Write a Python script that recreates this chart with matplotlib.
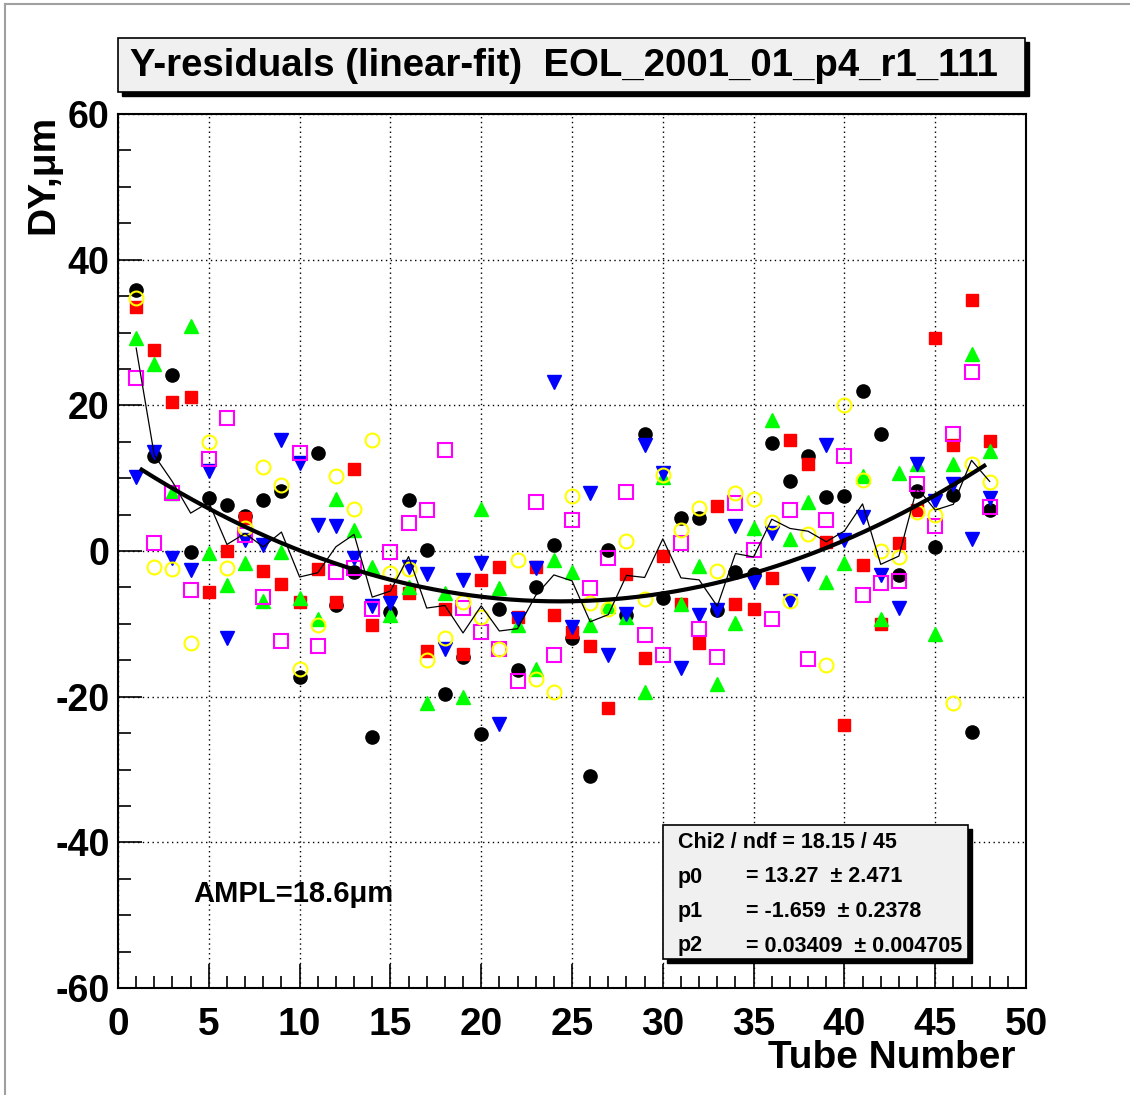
import numpy as np
import matplotlib
matplotlib.use("Agg")
from matplotlib import pyplot as plt
from matplotlib.patches import Rectangle
from matplotlib.lines import Line2D
from matplotlib.ticker import MultipleLocator

plt.rcParams['font.family'] = ['Liberation Sans', 'DejaVu Sans']
plt.rcParams['font.weight'] = 'bold'
plt.rcParams['axes.unicode_minus'] = False

tubes = np.arange(1, 49)

# residuals per tube for the six runs (micrometres)
black = [35.8, 13.0, 24.1, -0.2, 7.3, 6.3, 4.8, 7.0, 8.3, -17.3, 13.5, -7.4,
         -2.9, -25.5, -8.4, 7.0, 0.1, -19.7, -14.5, -25.1, -8.0, -16.3, -4.9, 0.8,
         -12.0, -30.9, 0.1, -8.8, 16.0, -6.4, 4.5, 4.5, -8.1, -2.9, -3.2, 14.8,
         9.6, 13.1, 7.4, 7.6, 21.9, 16.0, -3.3, 8.2, 0.6, 7.7, -24.9, 5.6]
red = [33.5, 27.6, 20.4, 21.1, -5.6, 0.0, 4.5, -2.8, -4.5, -7.0, -2.5, -7.0,
       11.3, -10.1, -5.5, -5.8, -13.7, -7.9, -14.1, -4.0, -2.2, -9.1, -2.2, -8.8,
       -11.1, -13.1, -21.6, -3.1, -14.7, -0.7, -7.3, -12.6, 6.2, -7.3, -7.9, -3.7,
       15.3, 12.0, 1.3, -23.9, -1.9, -10.0, 1.1, 5.6, 29.3, 14.6, 34.5, 15.1]
green = [29.3, 25.7, 8.0, 30.9, -0.3, -4.7, -1.7, -6.8, -0.2, -6.5, -9.3, 7.1,
         2.9, -2.2, -8.8, -4.9, -20.9, -5.8, -20.1, 5.7, -5.1, -10.2, -16.2, -1.2,
         -2.9, -10.1, -7.6, -9.0, -19.4, 10.2, -7.3, -2.1, -18.2, -9.9, 3.1, 18.0,
         1.7, 6.7, -4.2, -1.7, 10.3, -9.3, 10.7, 11.9, -11.4, 11.9, 27.0, 13.7]
blue = [10.2, 13.6, -1.0, -2.6, 11.0, -12.0, 1.5, 0.8, 15.2, 12.1, 3.6, 3.4,
        -1.0, -7.6, -7.2, -2.2, -3.1, -13.4, -4.0, -1.6, -23.7, -9.4, -2.4, 23.2,
        -10.4, 8.0, -14.3, -8.7, 14.5, 10.7, -16.0, -8.8, -8.1, 3.4, -4.2, 2.5,
        -6.8, -3.1, 14.5, 1.5, 4.7, -3.3, -7.8, 11.9, 6.8, 9.2, 1.6, 7.3]
magenta = [23.7, 1.1, 8.0, -5.4, 12.7, 18.2, 2.2, -6.3, -12.3, 13.5, -13.0, -2.9,
           -2.4, -7.9, -0.1, 3.8, 5.6, 13.9, -7.8, -11.1, -13.4, -17.8, 6.7, -14.3,
           4.2, -5.1, -1.0, 8.1, -11.6, -14.3, 1.1, -10.7, -14.6, 6.6, 0.2, -9.4,
           5.6, -14.8, 4.2, 13.0, -6.0, -4.4, -4.1, 9.2, 3.4, 16.0, 24.6, 6.1]
yellow = [34.7, -2.2, -2.5, -12.6, 15.0, -2.4, 3.2, 11.5, 9.1, -16.2, -10.2, 10.3,
          5.8, 15.3, -3.0, -2.5, -15.0, -12.0, -7.0, -9.1, -13.5, -1.2, -17.6, -19.4,
          7.6, -7.1, -8.0, 1.4, -6.6, 10.5, 2.9, 5.9, -2.7, 8.0, 7.1, 4.0,
          -6.8, 2.4, -15.6, 20.0, 9.8, 0.0, -0.8, 5.4, 5.0, -20.9, 11.9, 9.5]

# pol2 fit parameters from the stats box
p0, p1, p2 = 13.27, -1.659, 0.03409
fit_lo, fit_hi = 1.3, 47.7

W, H = 1130, 1095


def fx(px):
    return px / W


def fy(py):
    return 1 - py / H


fig = plt.figure(figsize=(W / 100, H / 100), dpi=100)
fig.patch.set_facecolor('white')

# canvas border (grey, top and left)
fig.add_artist(Line2D([fx(5), fx(5)], [fy(1095), fy(4)], color='#a0a0a0', lw=1.5))
fig.add_artist(Line2D([fx(5), fx(1130)], [fy(4), fy(4)], color='#a0a0a0', lw=1.5))

ax = fig.add_axes([fx(118), fy(988), fx(1026) - fx(118), fy(114) - fy(988)])

ax.plot(tubes, black, 'o', color='black', ms=9.5, mec='black', zorder=3)
ax.plot(tubes, red, 's', color='#ff0000', ms=9, mec='#ff0000', zorder=3)
ax.plot(tubes, green, '^', color='#00ff00', ms=9.5, mec='#00ff00', zorder=3)
ax.plot(tubes, blue, 'v', color='#0000ff', ms=9.5, mec='#0000ff', zorder=3)
ax.plot(tubes, magenta, 's', mfc='none', mec='#ff00ff', mew=1.5, ms=9.5, zorder=3)
ax.plot(tubes, yellow, 'o', mfc='none', mec='#ffff00', mew=1.5, ms=10, zorder=3)

mean = np.mean([black, red, green, blue, magenta, yellow], axis=0)
ax.plot(tubes, mean, '-', color='black', lw=0.9, zorder=4)

xf = np.linspace(fit_lo, fit_hi, 200)
ax.plot(xf, p0 + p1 * xf + p2 * xf ** 2, '-', color='black', lw=3, zorder=5)

ax.set_xlim(0, 50)
ax.set_ylim(-60, 60)
ax.xaxis.set_major_locator(MultipleLocator(5))
ax.xaxis.set_minor_locator(MultipleLocator(1))
ax.yaxis.set_major_locator(MultipleLocator(20))
ax.yaxis.set_minor_locator(MultipleLocator(5))
ax.tick_params(which='both', direction='in', top=False, right=False, width=1.2)
ax.tick_params(which='major', length=17)
ax.tick_params(which='minor', length=9)
ax.tick_params(axis='x', which='major', labelsize=28, pad=14)
ax.tick_params(axis='y', which='major', labelsize=27, pad=6)
for lab in ax.get_xticklabels() + ax.get_yticklabels():
    lab.set_fontweight('bold')
ax.grid(which='major', color='black', linestyle=(0, (1, 2.5)), linewidth=1)
for sp in ax.spines.values():
    sp.set_linewidth(1.5)

fig.text(fx(1016), fy(1058), 'Tube Number', ha='right', va='center',
         fontsize=28, fontweight='bold')
fig.text(fx(43), fy(115), 'DY,\u03bcm', ha='center', va='top', rotation=90,
         fontsize=28, fontweight='bold')

# title box with shadow
fig.add_artist(Rectangle((fx(122), fy(96)), fx(1029) - fx(122), fy(42) - fy(96),
                         transform=fig.transFigure, facecolor='black', edgecolor='black'))
fig.add_artist(Rectangle((fx(118), fy(92)), fx(1025) - fx(118), fy(38) - fy(92),
                         transform=fig.transFigure, facecolor='#f0f0f0', edgecolor='black', lw=1.2))
fig.text(fx(130), fy(66), 'Y-residuals (linear-fit)  EOL_2001_01_p4_r1_111',
         ha='left', va='center', fontsize=27.6, fontweight='bold')

# fit statistics box with shadow
fig.add_artist(Rectangle((fx(667), fy(963)), fx(972) - fx(667), fy(829) - fy(963),
                         transform=fig.transFigure, facecolor='black', edgecolor='black', zorder=6))
fig.add_artist(Rectangle((fx(663), fy(959)), fx(968) - fx(663), fy(825) - fy(959),
                         transform=fig.transFigure, facecolor='#f0f0f0', edgecolor='black', lw=1.2, zorder=7))
fig.text(fx(678), fy(842), 'Chi2 / ndf = 18.15 / 45', ha='left', va='center',
         fontsize=15.5, fontweight='bold', zorder=8)
rows = [('p0', '= 13.27  \u00b1 2.471'),
        ('p1', '= -1.659  \u00b1 0.2378'),
        ('p2', '= 0.03409  \u00b1 0.004705')]
for i, (name, val) in enumerate(rows):
    yy = 877 + i * 34.5
    fig.text(fx(678), fy(yy), name, ha='left', va='center', fontsize=15.5,
             fontweight='bold', zorder=8)
    fig.text(fx(746), fy(yy), val, ha='left', va='center', fontsize=15.5,
             fontweight='bold', zorder=8)

fig.text(fx(193), fy(894), 'AMPL=18.6\u03bcm', ha='left', va='center',
         fontsize=21, fontweight='bold')

fig.savefig('out.png', dpi=100)
